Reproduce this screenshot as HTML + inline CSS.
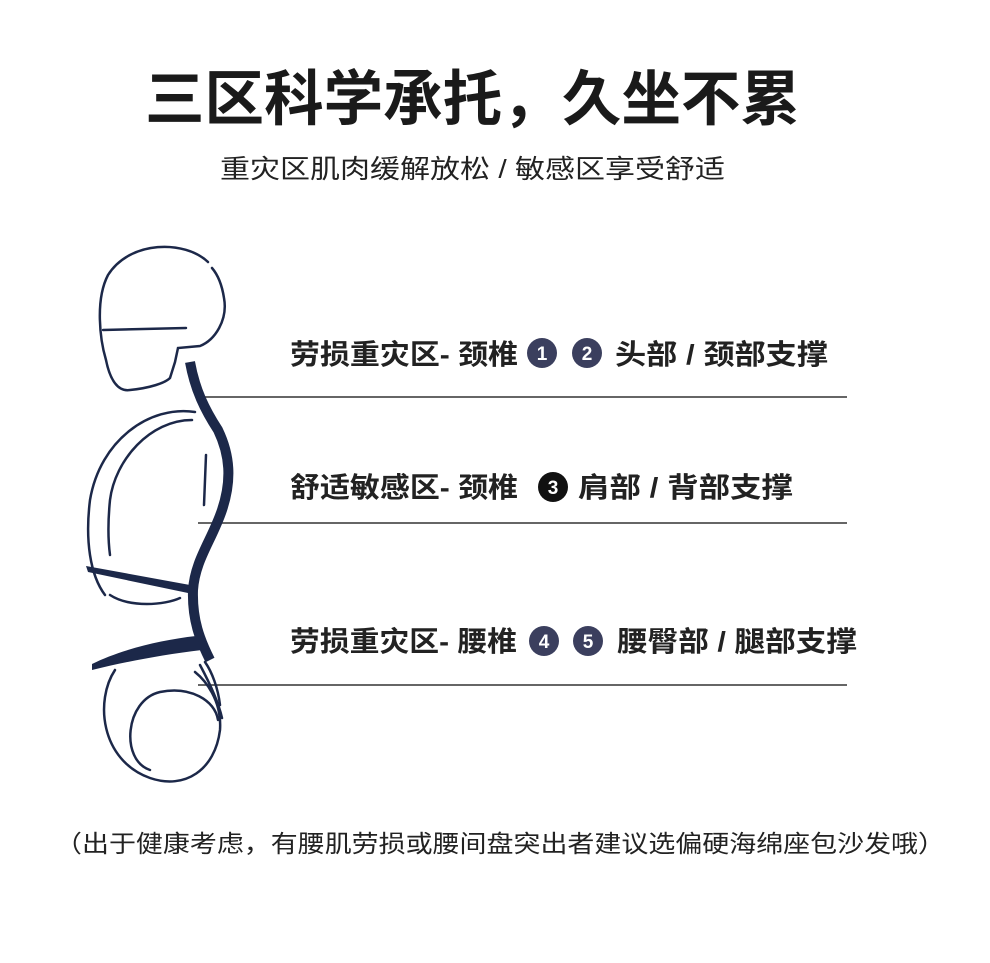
<!DOCTYPE html>
<html><head><meta charset="utf-8"><style>
html,body{margin:0;padding:0;background:#fff;}
svg{display:block;}
text{font-family:"Liberation Sans","Noto Sans CJK SC",sans-serif;}
</style></head><body>
<svg width="990" height="963" viewBox="0 0 990 963" xmlns="http://www.w3.org/2000/svg">
<rect width="990" height="963" fill="#fff"/>
<text x="145" y="120" font-size="60" font-weight="bold" fill="#1a1a1a" textLength="655" lengthAdjust="spacingAndGlyphs">三区科学承托，久坐不累</text>
<text x="220" y="178" font-size="26" fill="#222" textLength="505" lengthAdjust="spacingAndGlyphs">重灾区肌肉缓解放松 / 敏感区享受舒适</text>

<!-- lines -->
<g stroke="#333" stroke-width="1.5">
<line x1="205" y1="397" x2="847" y2="397"/>
<line x1="198" y1="523" x2="847" y2="523"/>
<line x1="198" y1="685" x2="847" y2="685"/>
</g>

<!-- figure -->
<g fill="none" stroke="#1c2849" stroke-width="2.5" stroke-linecap="round">
<path d="M208 262 C185 240 130 240 108 275 C95 300 100 340 106 360 C110 380 118 392 130 390 C150 388 165 383 170 378 L175 362 L178 348 L200 346 C215 340 228 320 224 298 C222 285 218 275 212 268"/>
<path d="M103 330 L186 328"/>
<path d="M195 412 C150 405 100 440 90 500 C85 540 90 575 105 595"/>
<path d="M192 420 C150 420 115 460 110 500 C108 520 108 540 110 555"/>
<path d="M206 455 L204 505"/>
<path d="M110 595 C130 608 165 605 180 598"/>
<path d="M115 670 C95 700 100 760 150 778 C185 790 215 770 220 730 C222 700 205 680 195 672"/>
<path d="M150 770 C120 760 125 700 160 692 C190 686 215 700 218 720"/>
<path d="M200 665 C208 680 218 700 222 718"/>
<path d="M205 662 C212 672 218 688 220 705"/>
</g>
<path d="M190 362 C195 390 205 410 218 430 C230 455 232 480 222 510 C212 540 195 560 193 590 C192 620 200 640 210 660" fill="none" stroke="#1c2849" stroke-width="10" stroke-linecap="butt"/>
<path d="M86 566 L190 585 L188 593 L88 572 Z" fill="#1c2849"/>
<path d="M92 664 C120 650 160 640 196 636 L202 650 C160 655 125 662 92 670 Z" fill="#1c2849"/>

<!-- labels -->
<g font-size="28" font-weight="bold" fill="#222">
<text x="290" y="364" textLength="228" lengthAdjust="spacingAndGlyphs">劳损重灾区- 颈椎</text>
<text x="615" y="364" textLength="213" lengthAdjust="spacingAndGlyphs">头部 / 颈部支撑</text>
<text x="290" y="497" textLength="228" lengthAdjust="spacingAndGlyphs">舒适敏感区- 颈椎</text>
<text x="578" y="497" textLength="215" lengthAdjust="spacingAndGlyphs">肩部 / 背部支撑</text>
<text x="290" y="651" textLength="227" lengthAdjust="spacingAndGlyphs">劳损重灾区- 腰椎</text>
<text x="617" y="651" textLength="240" lengthAdjust="spacingAndGlyphs">腰臀部 / 腿部支撑</text>
</g>
<g font-size="19" font-weight="bold" fill="#fff" text-anchor="middle">
<circle cx="542" cy="353" r="15" fill="#3b3f5e"/><text x="542" y="360">1</text>
<circle cx="587" cy="353" r="15" fill="#3b3f5e"/><text x="587" y="360">2</text>
<circle cx="553" cy="487" r="15" fill="#111"/><text x="553" y="494">3</text>
<circle cx="544" cy="641" r="15" fill="#3b3f5e"/><text x="544" y="648">4</text>
<circle cx="588" cy="641" r="15" fill="#3b3f5e"/><text x="588" y="648">5</text>
</g>

<text x="55" y="852" font-size="24" fill="#222" textLength="890" lengthAdjust="spacingAndGlyphs">（出于健康考虑，有腰肌劳损或腰间盘突出者建议选偏硬海绵座包沙发哦）</text>
</svg>
</body></html>
